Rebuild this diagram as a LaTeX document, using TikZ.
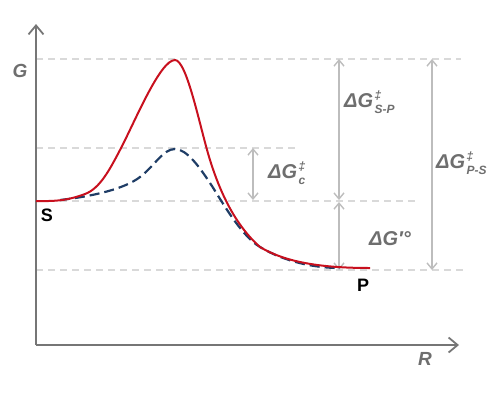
\documentclass[tikz,border=0pt]{standalone}
\usepackage{fontspec}
\setmainfont{Liberation Sans}
\usetikzlibrary{arrows.meta}
\definecolor{axisgray}{HTML}{767676}
\definecolor{textgray}{HTML}{6E6E6E}
\definecolor{guidegray}{HTML}{D9D9D9}
\definecolor{arrgray}{HTML}{BDBDBD}
\definecolor{curvered}{HTML}{C8101E}
\definecolor{curveblue}{HTML}{1F3D66}
\tikzset{
  axisline/.style={draw=axisgray, line width=1.8pt, -{Straight Barb[length=9pt,width=15pt,line width=1.8pt]}},
  guide/.style={draw=guidegray, line width=1.3pt, dash pattern=on 7pt off 5pt},
  dimarrow/.style={draw=arrgray, line width=1.5pt, {Straight Barb[length=6pt,width=10pt,line width=1.4pt]}-{Straight Barb[length=6pt,width=10pt,line width=1.4pt]}},
  lbl/.style={text=textgray, font=\fontsize{20}{20}\selectfont\bfseries\itshape, inner sep=0pt, anchor=base west},
  axlbl/.style={text=textgray, font=\fontsize{19}{19}\selectfont\bfseries\itshape, inner sep=0pt},
  statelbl/.style={text=black, font=\fontsize{18}{18}\selectfont\bfseries, inner sep=0pt},
}
\newcommand{\dgl}[1]{ΔG\kern1.5pt\raisebox{-6pt}{\fontsize{12}{12}\selectfont\vbox{\baselineskip=14pt\hbox{‡}\hbox{#1}}}}
\begin{document}
\begin{tikzpicture}[x=1pt,y=-1pt]
\useasboundingbox (0,0) rectangle (500,392);
% levels
\coordinate (top) at (36,59);
\coordinate (mid) at (36,148);
\coordinate (sl) at (36,201);
\coordinate (pl) at (36,270);
% guide lines
\draw[guide] (top) -- (461,59);
\draw[guide] (mid) -- (298,148);
\draw[guide] (sl) -- (418,201);
\draw[guide] (pl) -- (465,270);
% axes
\coordinate (origin) at (36,345);
\coordinate (yend) at (36,24);
\coordinate (xend) at (459,345);
\draw[axisline] (origin) -- (yend);
\draw[axisline] (origin) -- (xend);
\node[axlbl] (G) at (20,71) {G};
\node[axlbl] (R) at (425,359) {R};
% dimension arrows
\coordinate (c1) at (253,148);
\coordinate (c2) at (253,200);
\draw[dimarrow] (c1) -- (c2);
\coordinate (a1) at (339,59);
\coordinate (a2) at (339,200);
\coordinate (a3) at (339,202);
\coordinate (a4) at (339,270);
\draw[dimarrow] (a1) -- (a2);
\draw[dimarrow] (a3) -- (a4);
\coordinate (b1) at (432,59);
\coordinate (b2) at (432,270);
\draw[dimarrow] (b1) -- (b2);
% labels
\node[lbl] (Lc) at (268,178) {\dgl{c}};
\node[lbl] (Lsp) at (344,107) {\dgl{S-P}};
\node[lbl] (Lps) at (436,168) {\dgl{P-S}};
\node[lbl] (Lo) at (369,245) {ΔG′°};
% curves
\draw[curveblue, line width=2.2pt, dash pattern=on 10pt off 5pt, line cap=butt]
  (60,200) .. controls (95,196) and (125,188.5) .. (140,177)
  .. controls (155,165.5) and (163,149) .. (175,149)
  .. controls (187,149) and (200,168) .. (210,183)
  .. controls (220,198) and (240,235) .. (260,247)
  .. controls (285,262) and (315,268) .. (340,268);
\draw[curvered, line width=2pt]
  (36,201) .. controls (60,201.5) and (70,199.5) .. (85,194)
  .. controls (100,188.5) and (110,169) .. (120,150)
  .. controls (135,121.5) and (160,60) .. (175,60)
  .. controls (187,60) and (200,128) .. (210,160)
  .. controls (220,192) and (235,225) .. (260,247)
  .. controls (285,262) and (320,268) .. (370,268);
% states
\node[statelbl] (S) at (47,215) {S};
\node[statelbl] (P) at (363,285) {P};
\end{tikzpicture}
\end{document}
